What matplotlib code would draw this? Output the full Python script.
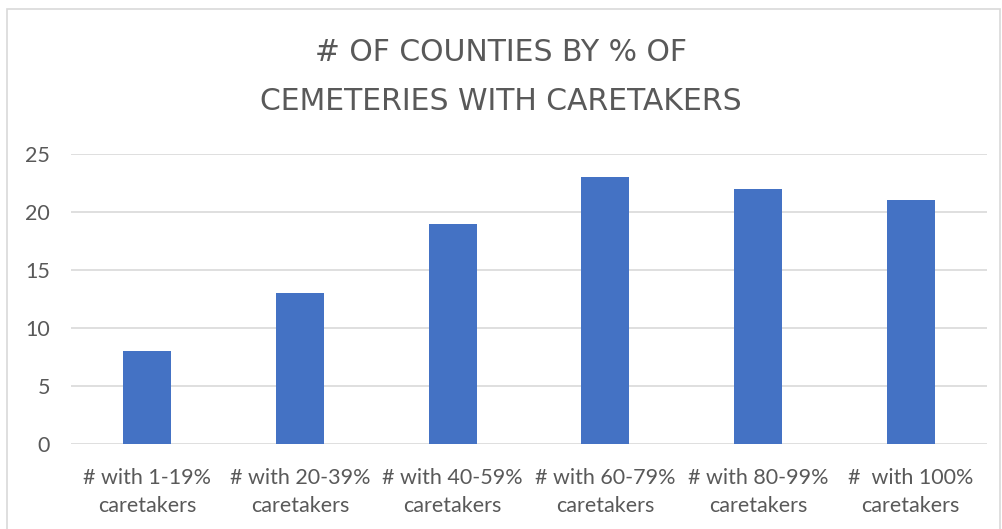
import matplotlib
matplotlib.use("Agg")
import matplotlib.pyplot as plt
from matplotlib.patches import Rectangle
from matplotlib import font_manager

categories = ["# with 1-19%\ncaretakers", "# with 20-39%\ncaretakers", "# with 40-59%\ncaretakers",
              "# with 60-79%\ncaretakers", "# with 80-99%\ncaretakers", "#  with 100%\ncaretakers"]
values = [8, 13, 19, 23, 22, 21]
yticks = [0, 5, 10, 15, 20, 25]
title = "# OF COUNTIES BY % OF\nCEMETERIES WITH CARETAKERS"

text_color = "#595959"
grid_color = "#D9D9D9"
bar_color = "#4472C4"

names = {f.name for f in font_manager.fontManager.ttflist}
title_family = "Liberation Sans Narrow" if "Liberation Sans Narrow" in names else "DejaVu Sans"

W, H = 1002, 529
fig = plt.figure(figsize=(W / 100, H / 100), dpi=100)
fig.patch.set_facecolor("white")

# chart border
fig.patches.append(Rectangle((7 / W, -0.01), (1000 - 7) / W, 1 - 9 / H + 0.01,
                             transform=fig.transFigure, fill=False,
                             edgecolor=grid_color, linewidth=1.2))

ax = fig.add_axes([71 / W, 1 - 444 / H, (987 - 71) / W, (444 - 154) / H])
x = list(range(len(categories)))
ax.bar(x, values, width=0.315, color=bar_color, zorder=3)
ax.set_xlim(-0.5, len(categories) - 0.5)
ax.set_ylim(0, 25)
ax.set_yticks(yticks)
ax.set_yticklabels([str(v) for v in yticks], fontsize=15.5, color=text_color, family="Lato")
ax.set_xticks(x)
ax.set_xticklabels(categories, fontsize=15.5, color=text_color, family="Lato", linespacing=1.55)
ax.tick_params(axis="both", length=0)
ax.tick_params(axis="x", pad=17)
ax.tick_params(axis="y", pad=15)
ax.grid(axis="y", color=grid_color, linewidth=1.2, zorder=0)
for s in ax.spines.values():
    s.set_visible(False)

fig.text(0.5, 1 - 77 / H, title, ha="center", va="center", fontsize=21.5,
         color=text_color, family=[title_family, "DejaVu Sans"],
         linespacing=1.85)

fig.savefig("out.png", dpi=100)
